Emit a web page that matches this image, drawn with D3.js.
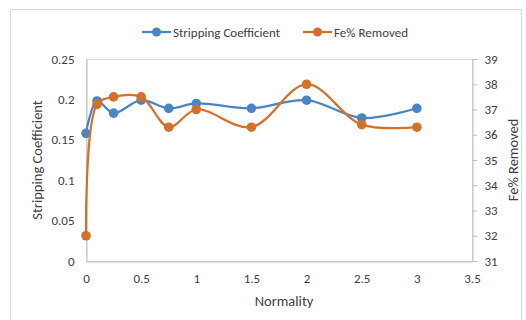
<!DOCTYPE html>
<html>
<head>
<meta charset="utf-8">
<script src="https://cdn.jsdelivr.net/npm/d3@7"></script>
<style>
  body { margin: 0; background: #fff; }
  text { font-family: Carlito, "Open Sans", "Liberation Sans", sans-serif; fill: #404040; }
</style>
</head>
<body>
<svg id="chart" width="526" height="320"></svg>
<script>
// data
const normality = [0, 0.1, 0.25, 0.5, 0.75, 1, 1.5, 2, 2.5, 3];
const strippingCoef = [0.158, 0.198, 0.183, 0.199, 0.189, 0.195, 0.189, 0.199, 0.177, 0.189];
const feRemoved = [32.0, 37.2, 37.5, 37.5, 36.3, 37.0, 36.3, 38.0, 36.4, 36.3];
const xTicks = [0, 0.5, 1, 1.5, 2, 2.5, 3, 3.5];
const leftTicks = [0, 0.05, 0.1, 0.15, 0.2, 0.25];
const rightTicks = [31, 32, 33, 34, 35, 36, 37, 38, 39];

const blue = "#4a84c4", orange = "#d4702a";
const margin = { top: 59, right: 54, bottom: 59, left: 86 },
  width = 526 - margin.left - margin.right,
  height = 320 - margin.top - margin.bottom;

const root = d3.select("#chart");

// outer chart border
root.append("rect")
  .attr("x", 10.5).attr("y", 9.5)
  .attr("width", 511).attr("height", 320)
  .attr("fill", "none").attr("stroke", "#d9d9d9");

const svg = root.append("g")
  .attr("transform", "translate(" + margin.left + "," + margin.top + ")");

const x = d3.scaleLinear().domain([0, 3.5]).range([0, width]);
const yL = d3.scaleLinear().domain([0, 0.25]).range([height, 0]);
const yR = d3.scaleLinear().domain([31, 39]).range([height, 0]);

// plot frame
svg.append("rect")
  .attr("x", 0.5).attr("y", 0.5)
  .attr("width", width).attr("height", height)
  .attr("fill", "none").attr("stroke", "#d9d9d9");

function styleAxis(g) {
  g.select(".domain").attr("stroke", "#bfbfbf");
  g.selectAll(".tick line").attr("stroke", "#bfbfbf");
  g.selectAll(".tick text").style("font-size", "13px").attr("fill", "#404040");
}

svg.append("g")
  .attr("transform", "translate(0," + (height + 0.5) + ")")
  .call(d3.axisBottom(x).tickValues(xTicks).tickFormat(d3.format("")).tickSize(0).tickPadding(12))
  .call(styleAxis);

svg.append("g")
  .attr("transform", "translate(0.5,0)")
  .call(d3.axisLeft(yL).tickValues(leftTicks).tickFormat(d3.format("")).tickSize(0).tickPadding(12))
  .call(styleAxis);

svg.append("g")
  .attr("transform", "translate(" + (width + 0.5) + ",0)")
  .call(d3.axisRight(yR).tickValues(rightTicks).tickSize(5).tickPadding(7))
  .call(styleAxis);

// axis titles
svg.append("text")
  .attr("x", width / 2 + 5).attr("y", height + 45)
  .attr("text-anchor", "middle")
  .style("font-size", "14.5px")
  .text("Normality");

svg.append("text")
  .attr("transform", "translate(" + (-44) + "," + (height / 2) + ") rotate(-90)")
  .attr("text-anchor", "middle")
  .style("font-size", "14.5px")
  .text("Stripping Coefficient");

svg.append("text")
  .attr("transform", "translate(" + (width + 46) + "," + (height / 2) + ") rotate(-90)")
  .attr("text-anchor", "middle")
  .style("font-size", "14.5px")
  .text("Fe% Removed");

const curve = d3.curveCatmullRom.alpha(0.5);

const series = [
  { values: strippingCoef, y: yL, color: blue },
  { values: feRemoved, y: yR, color: orange }
];

series.forEach(function (s) {
  const pts = normality.map(function (n, i) { return [n, s.values[i]]; });
  svg.append("path")
    .datum(pts)
    .attr("fill", "none")
    .attr("stroke", s.color)
    .attr("stroke-width", 2.25)
    .attr("d", d3.line().curve(curve)
      .x(function (d) { return x(d[0]); })
      .y(function (d) { return s.y(d[1]); }));
  svg.append("g")
    .selectAll("circle")
    .data(pts)
    .enter()
    .append("circle")
    .attr("cx", function (d) { return x(d[0]); })
    .attr("cy", function (d) { return s.y(d[1]); })
    .attr("r", 4.8)
    .attr("fill", s.color);
});

// legend
const legendItems = [
  { name: "Stripping Coefficient", color: blue, x: 142 },
  { name: "Fe% Removed", color: orange, x: 303 }
];
const legend = root.append("g");
legendItems.forEach(function (it) {
  const g = legend.append("g").attr("transform", "translate(" + it.x + ",32)");
  g.append("line").attr("x1", 0).attr("x2", 29).attr("y1", 0).attr("y2", 0)
    .attr("stroke", it.color).attr("stroke-width", 2.25);
  g.append("circle").attr("cx", 14.5).attr("cy", 0).attr("r", 4.5).attr("fill", it.color);
  g.append("text").attr("x", 31).attr("y", 4.5)
    .style("font-size", "13px")
    .text(it.name);
});
</script>
</body>
</html>
